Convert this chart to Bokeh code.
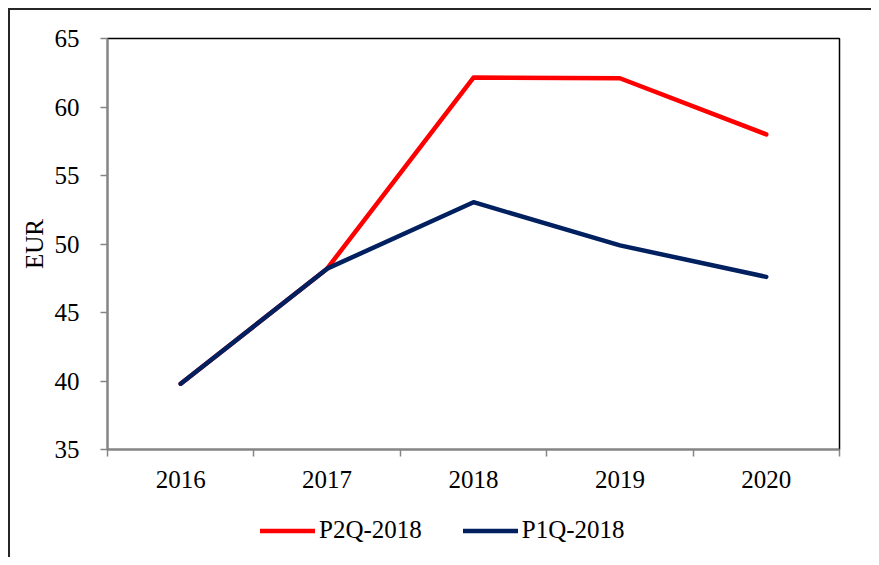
from bokeh.plotting import figure
from bokeh.layouts import column
from bokeh.models import Range1d, FixedTicker, Legend, LegendItem
from bokeh.embed import file_html
from bokeh.resources import INLINE
import numpy as np

years = ["2016", "2017", "2018", "2019", "2020"]
p2q_2018 = [39.8, 48.2, 62.15, 62.1, 58.0]
p1q_2018 = [39.8, 48.2, 53.05, 49.9, 47.6]
y_ticks = [35, 40, 45, 50, 55, 60, 65]
series_names = ["P2Q-2018", "P1Q-2018"]
series_colors = ["#FF0000", "#002060"]

FONT = "Liberation Serif"
FS = "25px"
AXIS_GRAY = "#868686"
FRAME_COL = "#262626"
LW = 4.5

xc = np.arange(len(years)) + 0.5
series_values = [p2q_2018, p1q_2018]

p = figure(width=871, height=505, output_backend="svg", toolbar_location=None,
           x_range=Range1d(0, len(years)), y_range=Range1d(35, 65),
           min_border_left=107, min_border_top=38, min_border_right=32, min_border_bottom=56)
p.border_fill_color = None
p.background_fill_color = "white"
p.xgrid.visible = False
p.ygrid.visible = False
p.outline_line_color = "black"
p.outline_line_width = 1.5

for vals, col in zip(series_values, series_colors):
    p.line(xc, vals, line_color=col, line_width=LW, line_cap="round", line_join="round")

# x axis
p.xaxis.ticker = FixedTicker(ticks=list(xc), minor_ticks=list(range(len(years) + 1)))
p.xaxis.major_label_overrides = {float(x): y for x, y in zip(xc, years)}
p.xaxis.major_tick_line_color = None
p.xaxis.major_tick_out = 7
p.xaxis.major_tick_in = 0
p.xaxis.minor_tick_line_color = AXIS_GRAY
p.xaxis.minor_tick_line_width = 1.5
p.xaxis.minor_tick_out = 7
p.xaxis.minor_tick_in = 0
p.xaxis.axis_line_color = AXIS_GRAY
p.xaxis.axis_line_width = 2
p.xaxis.major_label_text_font = FONT
p.xaxis.major_label_text_font_size = FS
p.xaxis.major_label_text_color = "black"
p.xaxis.major_label_standoff = 14

# y axis
p.yaxis.ticker = FixedTicker(ticks=y_ticks, minor_ticks=[])
p.yaxis.major_tick_line_color = AXIS_GRAY
p.yaxis.major_tick_line_width = 1.5
p.yaxis.major_tick_out = 7
p.yaxis.major_tick_in = 0
p.yaxis.minor_tick_line_color = None
p.yaxis.axis_line_color = AXIS_GRAY
p.yaxis.axis_line_width = 2
p.yaxis.major_label_text_font = FONT
p.yaxis.major_label_text_font_size = FS
p.yaxis.major_label_text_color = "black"
p.yaxis.major_label_standoff = 21
p.yaxis.axis_label = "EUR"
p.yaxis.axis_label_text_font = FONT
p.yaxis.axis_label_text_font_size = FS
p.yaxis.axis_label_text_font_style = "normal"
p.yaxis.axis_label_text_color = "black"
p.yaxis.axis_label_standoff = 4

# legend strip below the chart (series drawn outside its visible range; only the legend shows)
pl = figure(width=871, height=52, output_backend="svg", toolbar_location=None,
            x_range=Range1d(0, 1), y_range=Range1d(0, 1),
            x_axis_location=None, y_axis_location=None, min_border=0)
pl.border_fill_color = None
pl.background_fill_color = None
pl.outline_line_color = None
pl.xgrid.visible = False
pl.ygrid.visible = False
items = []
for name, vals, col in zip(series_names, series_values, series_colors):
    r = pl.line(xc, vals, line_color=col, line_width=LW, line_cap="round")
    items.append(LegendItem(label=name, renderers=[r]))
legend = Legend(items=items, location=(153, 13), orientation="horizontal",
                glyph_width=55, glyph_height=25, label_height=25, label_standoff=4,
                spacing=41, padding=0, margin=0,
                border_line_color=None, background_fill_alpha=0,
                label_text_font=FONT, label_text_font_size=FS, label_text_color="black")
pl.add_layout(legend, "center")

layout = column(p, pl, spacing=0)
layout.styles = {"background": (f"linear-gradient({FRAME_COL},{FRAME_COL}) 8px 8px / calc(100% - 8px) 2px no-repeat, "
                                f"linear-gradient({FRAME_COL},{FRAME_COL}) 8px 8px / 2px calc(100% - 8px) no-repeat, #ffffff")}

open("out.html", "w").write(file_html(layout, INLINE))
